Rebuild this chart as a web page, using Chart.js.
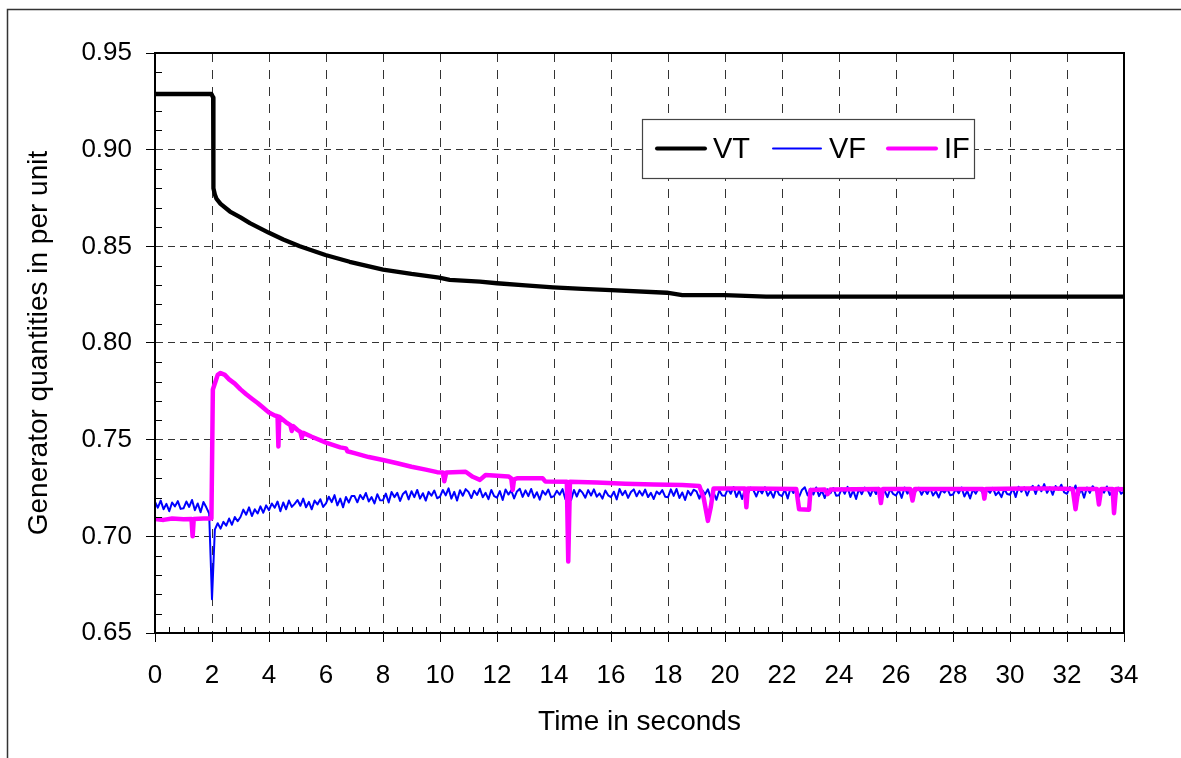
<!DOCTYPE html>
<html>
<head>
<meta charset="utf-8">
<script src="https://cdn.jsdelivr.net/npm/chart.js@4/dist/chart.umd.min.js"></script>
<style>
  html, body { margin: 0; padding: 0; background: #fff; }
  #wrap { width: 1181px; height: 758px; }
</style>
</head>
<body>
<div id="wrap"><canvas id="grafico" width="1181" height="758"></canvas></div>
<script>
// eixos
const xTicks = [0, 34, 2];          // min, max, passo
const yTicks = [0.65, 0.95, 0.05];
const seriesNames = ['VT', 'VF', 'IF'];

// VT - tensão terminal
const vtTime  = [0, 1.98, 2.04, 2.05, 2.1, 2.16, 2.3, 2.63, 3.0, 3.33, 4.0, 4.5, 5.08, 5.98, 6.83, 8.0, 9.0, 9.97, 10.34, 11.4, 12.0, 13.0, 13.97, 15.0, 16.0, 17.96, 18.5, 20.0, 21.44, 24.4, 34.0];
const vtValue = [0.9288, 0.9288, 0.9270, 0.8800, 0.8768, 0.8745, 0.8720, 0.8680, 0.8650, 0.8620, 0.8570, 0.8535, 0.8500, 0.8455, 0.8420, 0.8380, 0.8357, 0.8338, 0.8326, 0.8317, 0.8309, 0.8298, 0.8288, 0.8280, 0.8274, 0.8260, 0.8248, 0.8248, 0.8240, 0.8240, 0.8240];

// VF - tensão de campo, amostrada a cada 0.1 s
const vfStart = 0;
const vfStep = 0.1;
const vfValue = [
  0.7178,0.7148,0.7185,0.7140,0.7168,0.7130,0.7175,0.7155,0.7182,0.7142,
  0.7145,0.7180,0.7152,0.7188,0.7135,0.7170,0.7125,0.7178,0.7150,0.7118,
  0.6675,0.7035,0.7068,0.7040,0.7075,0.7055,0.7092,0.7060,0.7100,0.7078,
  0.7100,0.7138,0.7112,0.7150,0.7105,0.7140,0.7118,0.7155,0.7122,0.7160,
  0.7135,0.7170,0.7148,0.7180,0.7130,0.7175,0.7140,0.7185,0.7152,0.7168,
  0.7188,0.7158,0.7195,0.7150,0.7178,0.7140,0.7185,0.7165,0.7192,0.7152,
  0.7170,0.7205,0.7177,0.7213,0.7160,0.7195,0.7150,0.7203,0.7175,0.7209,
  0.7208,0.7176,0.7214,0.7192,0.7224,0.7180,0.7203,0.7170,0.7218,0.7186,
  0.7187,0.7221,0.7175,0.7229,0.7203,0.7225,0.7183,0.7219,0.7233,0.7191,
  0.7233,0.7203,0.7240,0.7195,0.7223,0.7185,0.7230,0.7210,0.7237,0.7197,
  0.7205,0.7240,0.7212,0.7248,0.7195,0.7230,0.7185,0.7238,0.7210,0.7244,
  0.7230,0.7198,0.7236,0.7214,0.7246,0.7202,0.7225,0.7192,0.7240,0.7208,
  0.7200,0.7234,0.7188,0.7242,0.7216,0.7238,0.7196,0.7232,0.7246,0.7204,
  0.7238,0.7208,0.7245,0.7200,0.7228,0.7190,0.7235,0.7215,0.7242,0.7202,
  0.7208,0.7236,0.7215,0.7244,0.7192,0.7233,0.7188,0.7240,0.7206,0.7241,
  0.7226,0.7200,0.7239,0.7211,0.7243,0.7205,0.7222,0.7195,0.7237,0.7212,
  0.7203,0.7231,0.7191,0.7245,0.7213,0.7235,0.7199,0.7229,0.7243,0.7207,
  0.7235,0.7211,0.7242,0.7203,0.7225,0.7193,0.7232,0.7218,0.7239,0.7205,
  0.7202,0.7243,0.7209,0.7245,0.7198,0.7227,0.7188,0.7235,0.7213,0.7241,
  0.7233,0.7195,0.7239,0.7217,0.7243,0.7199,0.7228,0.7189,0.7237,0.7211,
  0.7210,0.7246,0.7220,0.7255,0.7203,0.7238,0.7193,0.7246,0.7218,0.7252,
  0.7238,0.7206,0.7244,0.7222,0.7254,0.7210,0.7233,0.7200,0.7248,0.7216,
  0.7208,0.7242,0.7196,0.7250,0.7224,0.7246,0.7204,0.7240,0.7254,0.7212,
  0.7246,0.7216,0.7253,0.7208,0.7236,0.7198,0.7243,0.7223,0.7250,0.7210,
  0.7213,0.7248,0.7220,0.7256,0.7203,0.7238,0.7193,0.7246,0.7218,0.7252,
  0.7241,0.7209,0.7247,0.7219,0.7251,0.7213,0.7236,0.7203,0.7245,0.7219,
  0.7211,0.7239,0.7199,0.7253,0.7221,0.7243,0.7207,0.7237,0.7251,0.7215,
  0.7243,0.7219,0.7250,0.7211,0.7233,0.7201,0.7240,0.7226,0.7247,0.7213,
  0.7216,0.7245,0.7223,0.7253,0.7206,0.7235,0.7196,0.7243,0.7221,0.7249,
  0.7235,0.7209,0.7241,0.7225,0.7251,0.7213,0.7230,0.7203,0.7245,0.7219,
  0.7215,0.7249,0.7203,0.7257,0.7231,0.7253,0.7211,0.7247,0.7261,0.7219,
  0.7263,0.7233,0.7270,0.7225,0.7253,0.7215,0.7260,0.7240,0.7267,0.7227,
  0.7220,0.7255,0.7227,0.7263,0.7210,0.7245,0.7200,0.7253,0.7225,0.7259,
  0.7242,0.7210,0.7248,0.7226,0.7258,0.7214,0.7237,0.7204,0.7252,0.7220,
  0.7232
];

// IF - corrente de campo
const ifTime = [
  0, 0.3, 0.6, 1.0, 1.28, 1.32, 1.36, 1.7, 1.98, 2.03, 2.1, 2.2, 2.3, 2.45, 2.6, 2.8,
  3.0, 3.2, 3.4, 3.6, 3.8, 4.0, 4.2, 4.3, 4.33, 4.36, 4.6, 4.75, 4.8, 4.85, 5.0, 5.1,
  5.15, 5.2, 5.5, 6.0, 6.5, 6.7, 6.75, 7.0, 7.5, 8.0, 8.5, 9.0, 9.5, 9.9, 10.1, 10.15,
  10.22, 10.9, 11.15, 11.4, 11.6, 12.4, 12.5, 12.55, 12.6, 12.7, 13.6, 13.7, 14.45, 14.5,
  14.56, 15.5, 16.5, 17.5, 18.5, 19.1, 19.25, 19.4, 19.5, 19.6, 20.7, 20.75, 20.8, 22.5,
  22.6, 22.95, 23.0, 23.5, 23.6, 23.7, 25.4, 25.47, 25.54, 26.5, 26.58, 26.66, 29.05, 29.1,
  29.15, 30.5, 31.5, 32.2, 32.3, 32.4, 33.05, 33.12, 33.2, 33.6, 33.65, 33.72, 34.0
];
const ifValue = [
  0.7090, 0.7085, 0.7092, 0.7088, 0.7090, 0.7000, 0.7090, 0.7092, 0.7092, 0.7760, 0.7790, 0.7835, 0.7845, 0.7835, 0.7812, 0.7790,
  0.7760, 0.7735, 0.7712, 0.7690, 0.7665, 0.7640, 0.7625, 0.7622, 0.7465, 0.7618, 0.7590, 0.7575, 0.7545, 0.7570, 0.7550, 0.7540,
  0.7510, 0.7535, 0.7515, 0.7485, 0.7460, 0.7455, 0.7440, 0.7430, 0.7410, 0.7395, 0.7378, 0.7360, 0.7345, 0.7332, 0.7330, 0.7285,
  0.7330, 0.7334, 0.7308, 0.7292, 0.7317, 0.7310, 0.7300, 0.7240, 0.7295, 0.7300, 0.7300, 0.7283, 0.7282, 0.6870,
  0.7282, 0.7278, 0.7272, 0.7268, 0.7265, 0.7260, 0.7200, 0.7080, 0.7150, 0.7248, 0.7248, 0.7150, 0.7248, 0.7245,
  0.7140, 0.7138, 0.7240, 0.7242, 0.7218, 0.7242, 0.7245, 0.7172, 0.7245, 0.7245, 0.7185, 0.7245, 0.7245, 0.7195,
  0.7245, 0.7248, 0.7248, 0.7245, 0.7140, 0.7245, 0.7245, 0.7165, 0.7245, 0.7245, 0.7120, 0.7245, 0.7243
];

const cores = ['#000000', '#0000ff', '#ff00ff'];
const espessuras = [4.3, 2, 4.5];
const fonte = '"Liberation Sans", Arial, sans-serif';

const pares = (tempos, valores) => tempos.map((t, i) => ({ x: t, y: valores[i] }));
const vfTime = vfValue.map((v, i) => +(vfStart + i * vfStep).toFixed(2));

// ticks menores, moldura e legenda dentro do gráfico
const extras = {
  id: 'extras',
  afterDraw(chart) {
    const ctx = chart.ctx;
    const { left, right, top, bottom } = chart.chartArea;
    const sx = chart.scales.x, sy = chart.scales.y;
    ctx.save();
    ctx.strokeStyle = '#000';
    ctx.lineWidth = 1;
    ctx.beginPath();
    for (let i = 1; i < 68; i++) {
      if (i % 4 === 0) continue;
      const px = Math.round(sx.getPixelForValue(i * 0.5)) + 0.5;
      ctx.moveTo(px, bottom);
      ctx.lineTo(px, bottom - 6);
    }
    for (let j = 1; j < 30; j++) {
      if (j % 5 === 0) continue;
      const py = Math.round(sy.getPixelForValue(0.65 + j * 0.01)) + 0.5;
      ctx.moveTo(left, py);
      ctx.lineTo(left + 7, py);
    }
    ctx.stroke();

    // moldura da área do gráfico
    ctx.lineWidth = 2;
    ctx.strokeRect(left, top, right - left, bottom - top);

    // borda externa
    ctx.strokeStyle = '#333';
    ctx.lineWidth = 1.5;
    ctx.beginPath();
    ctx.moveTo(7.5, 760);
    ctx.lineTo(7.5, 9.5);
    ctx.lineTo(1181, 9.5);
    ctx.stroke();

    // legenda
    const lx = left + 487, ly = top + 66, lw = 332, lh = 59;
    ctx.fillStyle = '#fff';
    ctx.fillRect(lx, ly, lw, lh);
    ctx.strokeStyle = '#444';
    ctx.lineWidth = 1.2;
    ctx.strokeRect(lx + 0.5, ly + 0.5, lw, lh);
    const cy = ly + lh / 2;
    const offs = [15, 131, 246];
    ctx.font = '29px ' + fonte;
    ctx.textBaseline = 'middle';
    chart.data.datasets.forEach((ds, k) => {
      const x0 = lx + offs[k];
      ctx.strokeStyle = ds.borderColor;
      ctx.lineWidth = k === 1 ? 2 : 4;
      ctx.lineCap = 'round';
      ctx.beginPath();
      ctx.moveTo(x0, cy);
      ctx.lineTo(x0 + 48, cy);
      ctx.stroke();
      ctx.fillStyle = '#000';
      ctx.fillText(ds.label, x0 + 56, cy + 1);
    });
    ctx.restore();
  }
};

const canvas = document.getElementById('grafico');
new Chart(canvas, {
  type: 'line',
  data: {
    datasets: [
      { label: seriesNames[0], data: pares(vtTime, vtValue), order: 2 },
      { label: seriesNames[1], data: pares(vfTime, vfValue), order: 1 },
      { label: seriesNames[2], data: pares(ifTime, ifValue), order: 0 }
    ].map((ds, k) => Object.assign(ds, {
      borderColor: cores[k],
      backgroundColor: cores[k],
      borderWidth: espessuras[k],
      pointRadius: 0,
      tension: 0,
      fill: false,
      borderJoinStyle: 'round'
    }))
  },
  options: {
    responsive: false,
    animation: false,
    layout: { padding: { top: 53, right: 57, bottom: 0, left: 0 } },
    plugins: { legend: { display: false }, tooltip: { enabled: false } },
    scales: {
      x: {
        type: 'linear',
        min: xTicks[0], max: xTicks[1],
        afterFit(scale) { scale.height = 125; },
        ticks: { stepSize: xTicks[2], color: '#000', padding: 18, maxRotation: 0, font: { family: fonte, size: 26 } },
        grid: { color: '#333', lineWidth: 1, tickLength: 9, tickColor: '#000', tickWidth: 1 },
        border: { color: '#000', width: 2, dash: [9, 8] },
        title: { display: true, text: 'Time in seconds', color: '#000', padding: { top: 0, bottom: 19 }, font: { family: fonte, size: 28 } }
      },
      y: {
        min: yTicks[0], max: yTicks[1],
        afterFit(scale) { scale.width = 155; },
        ticks: { stepSize: yTicks[2], color: '#000', padding: 14, callback: v => v.toFixed(2), font: { family: fonte, size: 26 } },
        grid: { color: '#333', lineWidth: 1, tickLength: 9, tickColor: '#000', tickWidth: 1 },
        border: { color: '#000', width: 2, dash: [7, 5] },
        title: { display: true, text: 'Generator quantities in per unit', color: '#000', padding: { top: 22, bottom: 0 }, font: { family: fonte, size: 28 } }
      }
    }
  },
  plugins: [extras]
});
</script>
</body>
</html>
